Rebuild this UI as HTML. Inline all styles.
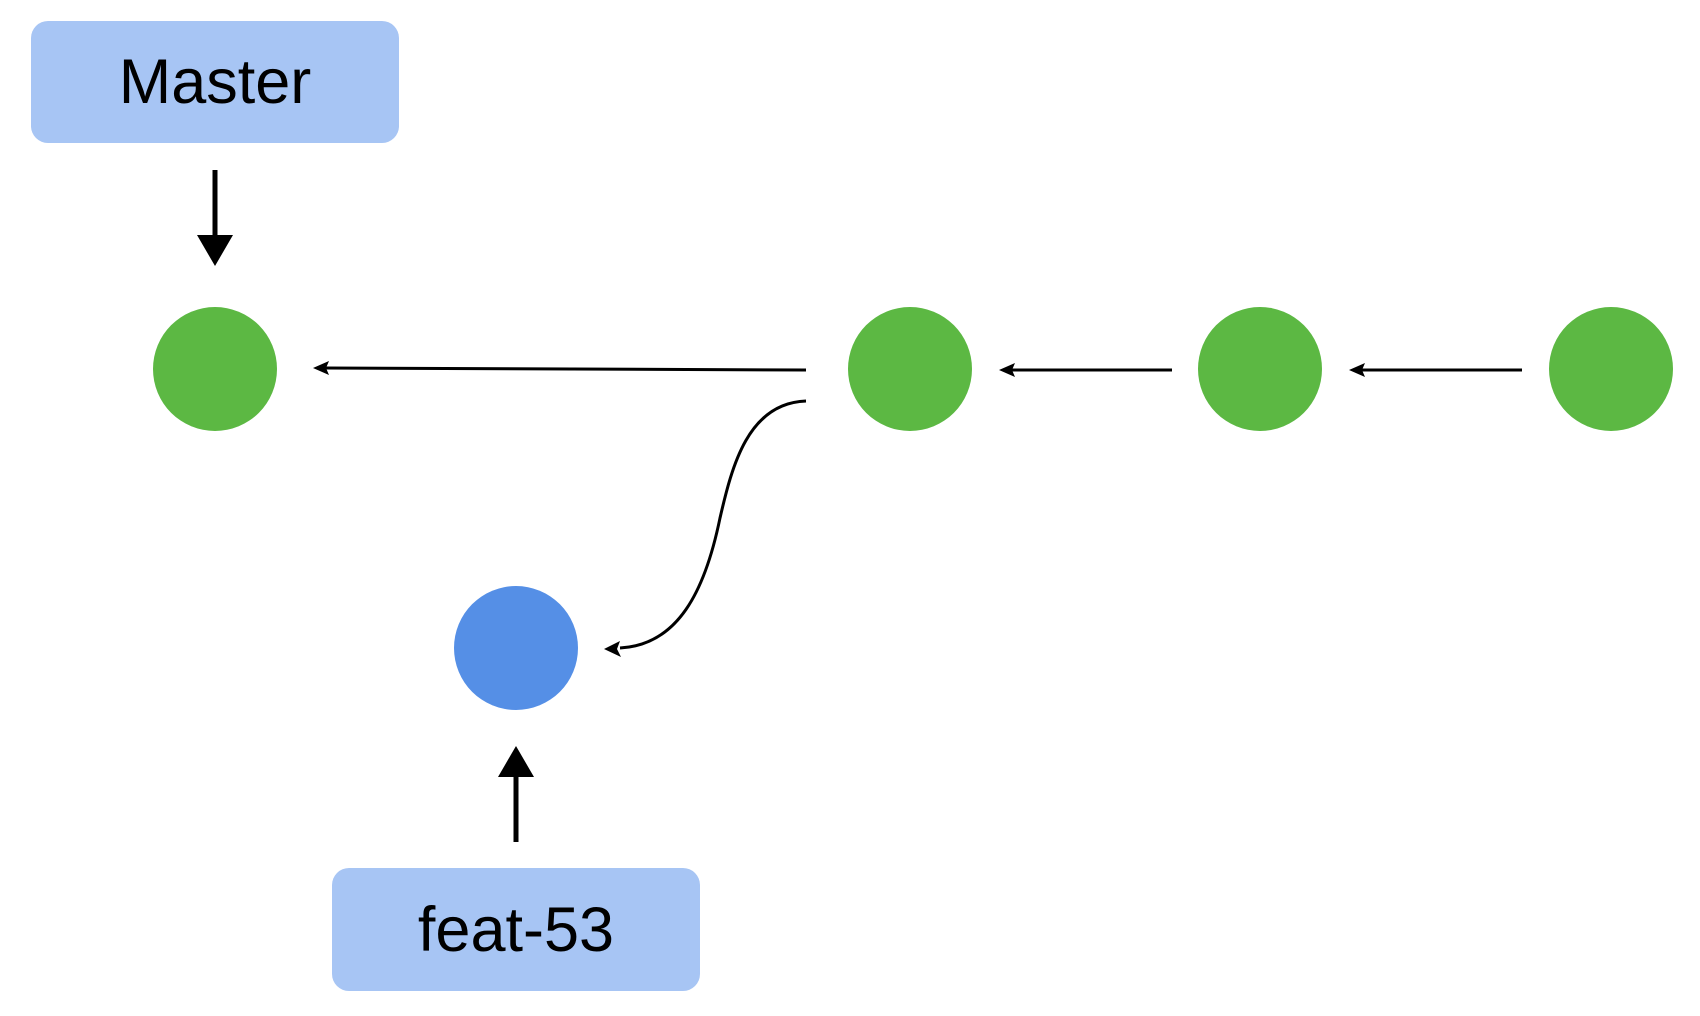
<!DOCTYPE html>
<html><head><meta charset="utf-8"><style>
html,body{margin:0;padding:0;background:#fff;}
svg{display:block}
</style></head><body>
<svg width="1700" height="1016" viewBox="0 0 1700 1016" xmlns="http://www.w3.org/2000/svg">
<rect x="31" y="21" width="368" height="122" rx="17" fill="#a7c5f4"/>
<text x="215" y="103" text-anchor="middle" font-family="Liberation Sans, sans-serif" font-size="63" fill="#000">Master</text>
<rect x="332" y="868" width="368" height="123" rx="17" fill="#a7c5f4"/>
<text x="516" y="951" text-anchor="middle" font-family="Liberation Sans, sans-serif" font-size="63" fill="#000">feat-53</text>
<line x1="215" y1="170" x2="215" y2="236" stroke="#000" stroke-width="5"/>
<polygon points="197,235 233,235 215,266" fill="#000"/>
<line x1="516" y1="842" x2="516" y2="775" stroke="#000" stroke-width="5"/>
<polygon points="498,777 534,777 516,746" fill="#000"/>
<circle cx="215" cy="369" r="62" fill="#5cb843"/>
<circle cx="910" cy="369" r="62" fill="#5cb843"/>
<circle cx="1260" cy="369" r="62" fill="#5cb843"/>
<circle cx="1611" cy="369" r="62" fill="#5cb843"/>
<circle cx="516" cy="648" r="62" fill="#558fe6"/>
<g stroke="#000" stroke-width="3" fill="none">
<line x1="806" y1="370" x2="325" y2="368"/>
<line x1="1172" y1="370" x2="1010" y2="370"/>
<line x1="1522" y1="370" x2="1360" y2="370"/>
<path d="M806,401 C748,403 732,466 720,518 C705,591 678,645 620,648"/>
</g>
<g fill="#000">
<polygon points="313,368 329,361 326,368 329,375"/>
<polygon points="999,370 1015,363 1012,370 1015,377"/>
<polygon points="1349,370 1365,363 1362,370 1365,377"/>
<polygon points="604,649 620,641 617,649 621,657"/>
</g>
</svg>
</body></html>
